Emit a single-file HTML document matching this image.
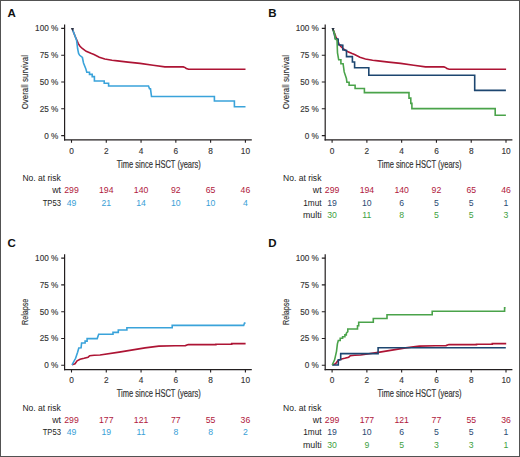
<!DOCTYPE html><html><head><meta charset="utf-8"><style>html,body{margin:0;padding:0;background:#fff;}svg{display:block;}text{font-family:"Liberation Sans", sans-serif;}</style></head><body>
<svg width="520" height="457" viewBox="0 0 520 457">
<rect x="0" y="0" width="520" height="457" fill="#fff"/>
<text x="7.6" y="17.1" font-size="11.5" font-weight="bold" fill="#111">A</text>
<path d="M64.6,24.5V140.6" fill="none" stroke="#231f20" stroke-width="1.2"/>
<path d="M64,139.9H251.8" fill="none" stroke="#231f20" stroke-width="1.4"/>
<path d="M61.2,135.6H64.6M61.2,108.8H64.6M61.2,82H64.6M61.2,55.2H64.6M61.2,28.4H64.6M71.5,140V142.8M106.28,140V142.8M141.06,140V142.8M175.84,140V142.8M210.62,140V142.8M245.4,140V142.8" stroke="#231f20" stroke-width="1.1" fill="none"/>
<text x="58.3" y="138.5" text-anchor="end" font-size="8.2" fill="#333" stroke="#333" stroke-width="0.12">0 %</text>
<text x="58.3" y="111.7" text-anchor="end" font-size="8.2" fill="#333" stroke="#333" stroke-width="0.12">25 %</text>
<text x="58.3" y="84.9" text-anchor="end" font-size="8.2" fill="#333" stroke="#333" stroke-width="0.12">50 %</text>
<text x="58.3" y="58.1" text-anchor="end" font-size="8.2" fill="#333" stroke="#333" stroke-width="0.12">75 %</text>
<text x="58.3" y="31.3" text-anchor="end" font-size="8.2" fill="#333" stroke="#333" stroke-width="0.12">100 %</text>
<text x="71.5" y="153.5" text-anchor="middle" font-size="8.3" fill="#333" stroke="#333" stroke-width="0.12">0</text>
<text x="106.28" y="153.5" text-anchor="middle" font-size="8.3" fill="#333" stroke="#333" stroke-width="0.12">2</text>
<text x="141.06" y="153.5" text-anchor="middle" font-size="8.3" fill="#333" stroke="#333" stroke-width="0.12">4</text>
<text x="175.84" y="153.5" text-anchor="middle" font-size="8.3" fill="#333" stroke="#333" stroke-width="0.12">6</text>
<text x="210.62" y="153.5" text-anchor="middle" font-size="8.3" fill="#333" stroke="#333" stroke-width="0.12">8</text>
<text x="245.4" y="153.5" text-anchor="middle" font-size="8.3" fill="#333" stroke="#333" stroke-width="0.12">10</text>
<text x="116.8" y="167.6" font-size="10.4" textLength="84" lengthAdjust="spacingAndGlyphs" fill="#333" stroke="#333" stroke-width="0.18">Time since HSCT (years)</text>
<text transform="translate(28.2,82.2) rotate(-90)" x="0" y="0" text-anchor="middle" font-size="9.9" textLength="54.3" lengthAdjust="spacingAndGlyphs" fill="#333" stroke="#333" stroke-width="0.15">Overall survival</text>
<polyline points="72.3,29 75.2,36.5 77,40.5 78.3,43.6 80,46.2 82.3,48.5 86.2,51.3 91.5,53.6 94,54.5 99.3,57.3 104.8,59 112,60.2 117.5,60.9 128,62.1 140,63.4 153.1,65.2 164.9,66.9 183.3,66.9 185.2,67.6 186.3,68.6 188.6,69.3 245.5,69.3" fill="none" stroke="#ad1434" stroke-width="1.6" stroke-linejoin="miter"/>
<polyline points="72.3,29 75.2,36.5 76.6,40.5 77.6,48.5 78.6,53.5 79.7,55.3 82.4,57.5 83.5,63 85.7,68.4 86.8,72.2 89.5,72.2 89.5,74.4 92.2,74.4 92.2,76.6 94.4,76.6 94.4,81 104.2,81 104.2,83.2 108.6,83.2 108.6,86 148.5,86 149.5,88.8 150.5,88.8 151.5,96.5 214.4,96.5 214.4,101 234.4,101 234.4,106.7 245.5,106.7" fill="none" stroke="#3aa3da" stroke-width="1.6" stroke-linejoin="miter"/>
<path d="M70.8,27.9H74L72.6,31.1Z" fill="#2a3142"/>
<text x="22.4" y="180.8" font-size="8.4" textLength="38.4" lengthAdjust="spacingAndGlyphs" fill="#222">No. at risk</text>
<text x="61" y="193.3" text-anchor="end" font-size="8.7" textLength="8.8" lengthAdjust="spacingAndGlyphs" fill="#222">wt</text>
<text x="71.5" y="193.3" text-anchor="middle" font-size="8.7" fill="#b0183c">299</text>
<text x="106.28" y="193.3" text-anchor="middle" font-size="8.7" fill="#b0183c">194</text>
<text x="141.06" y="193.3" text-anchor="middle" font-size="8.7" fill="#b0183c">140</text>
<text x="175.84" y="193.3" text-anchor="middle" font-size="8.7" fill="#b0183c">92</text>
<text x="210.62" y="193.3" text-anchor="middle" font-size="8.7" fill="#b0183c">65</text>
<text x="245.4" y="193.3" text-anchor="middle" font-size="8.7" fill="#b0183c">46</text>
<text x="61" y="205.75" text-anchor="end" font-size="8.7" textLength="18.3" lengthAdjust="spacingAndGlyphs" fill="#222">TP53</text>
<text x="71.5" y="205.75" text-anchor="middle" font-size="8.7" fill="#3aa0d6">49</text>
<text x="106.28" y="205.75" text-anchor="middle" font-size="8.7" fill="#3aa0d6">21</text>
<text x="141.06" y="205.75" text-anchor="middle" font-size="8.7" fill="#3aa0d6">14</text>
<text x="175.84" y="205.75" text-anchor="middle" font-size="8.7" fill="#3aa0d6">10</text>
<text x="210.62" y="205.75" text-anchor="middle" font-size="8.7" fill="#3aa0d6">10</text>
<text x="245.4" y="205.75" text-anchor="middle" font-size="8.7" fill="#3aa0d6">4</text>
<text x="268.2" y="17.1" font-size="11.5" font-weight="bold" fill="#111">B</text>
<path d="M325.2,24.5V140.6" fill="none" stroke="#231f20" stroke-width="1.2"/>
<path d="M324.6,139.9H512.4" fill="none" stroke="#231f20" stroke-width="1.4"/>
<path d="M321.8,135.6H325.2M321.8,108.8H325.2M321.8,82H325.2M321.8,55.2H325.2M321.8,28.4H325.2M332.1,140V142.8M366.88,140V142.8M401.66,140V142.8M436.44,140V142.8M471.22,140V142.8M506,140V142.8" stroke="#231f20" stroke-width="1.1" fill="none"/>
<text x="318.9" y="138.5" text-anchor="end" font-size="8.2" fill="#333" stroke="#333" stroke-width="0.12">0 %</text>
<text x="318.9" y="111.7" text-anchor="end" font-size="8.2" fill="#333" stroke="#333" stroke-width="0.12">25 %</text>
<text x="318.9" y="84.9" text-anchor="end" font-size="8.2" fill="#333" stroke="#333" stroke-width="0.12">50 %</text>
<text x="318.9" y="58.1" text-anchor="end" font-size="8.2" fill="#333" stroke="#333" stroke-width="0.12">75 %</text>
<text x="318.9" y="31.3" text-anchor="end" font-size="8.2" fill="#333" stroke="#333" stroke-width="0.12">100 %</text>
<text x="332.1" y="153.5" text-anchor="middle" font-size="8.3" fill="#333" stroke="#333" stroke-width="0.12">0</text>
<text x="366.88" y="153.5" text-anchor="middle" font-size="8.3" fill="#333" stroke="#333" stroke-width="0.12">2</text>
<text x="401.66" y="153.5" text-anchor="middle" font-size="8.3" fill="#333" stroke="#333" stroke-width="0.12">4</text>
<text x="436.44" y="153.5" text-anchor="middle" font-size="8.3" fill="#333" stroke="#333" stroke-width="0.12">6</text>
<text x="471.22" y="153.5" text-anchor="middle" font-size="8.3" fill="#333" stroke="#333" stroke-width="0.12">8</text>
<text x="506" y="153.5" text-anchor="middle" font-size="8.3" fill="#333" stroke="#333" stroke-width="0.12">10</text>
<text x="377.4" y="167.6" font-size="10.4" textLength="84" lengthAdjust="spacingAndGlyphs" fill="#333" stroke="#333" stroke-width="0.18">Time since HSCT (years)</text>
<text transform="translate(288.8,82.2) rotate(-90)" x="0" y="0" text-anchor="middle" font-size="9.9" textLength="54.3" lengthAdjust="spacingAndGlyphs" fill="#333" stroke="#333" stroke-width="0.15">Overall survival</text>
<polyline points="332.9,29 335.8,36.5 337.6,40.5 338.9,43.6 340.6,46.2 342.9,48.5 346.8,51.3 352.1,53.6 354.6,54.5 359.9,57.3 365.4,59 372.6,60.2 378.1,60.9 388.6,62.1 400.6,63.4 413.7,65.2 425.5,66.9 443.9,66.9 445.8,67.6 446.9,68.6 449.2,69.3 506.1,69.3" fill="none" stroke="#ad1434" stroke-width="1.6" stroke-linejoin="miter"/>
<polyline points="332.9,28.9 335.3,38.5 338.2,39.1 338.2,44.8 342.8,45.2 342.8,49.8 346.5,50.5 346.5,56.6 352.4,56.6 352.4,62 354.6,62 354.6,67.7 368.8,67.7 368.8,75.3 474.7,75.3 474.7,90.4 505.9,90.4" fill="none" stroke="#1d4670" stroke-width="1.6" stroke-linejoin="miter"/>
<polyline points="332.9,28.9 334.8,34.5 335.2,39 337,40 337.5,53 338.7,59.8 340.9,59.8 340.9,63.7 343.1,63.7 344.2,71.9 346.4,78.4 346.9,82.2 349.1,82.2 349.1,85.2 355.1,85.2 355.1,88.5 364.4,88.5 364.4,92.6 409,92.6 409,98.1 410.8,98.1 410.8,103.4 411.9,103.4 411.9,108.6 495.2,108.6 495.2,115.3 505.9,115.3" fill="none" stroke="#4aa34a" stroke-width="1.6" stroke-linejoin="miter"/>
<path d="M331.4,27.9H334.6L333.2,31.1Z" fill="#2a3142"/>
<text x="283" y="180.8" font-size="8.4" textLength="38.4" lengthAdjust="spacingAndGlyphs" fill="#222">No. at risk</text>
<text x="321.6" y="193.3" text-anchor="end" font-size="8.7" textLength="8.8" lengthAdjust="spacingAndGlyphs" fill="#222">wt</text>
<text x="332.1" y="193.3" text-anchor="middle" font-size="8.7" fill="#b0183c">299</text>
<text x="366.88" y="193.3" text-anchor="middle" font-size="8.7" fill="#b0183c">194</text>
<text x="401.66" y="193.3" text-anchor="middle" font-size="8.7" fill="#b0183c">140</text>
<text x="436.44" y="193.3" text-anchor="middle" font-size="8.7" fill="#b0183c">92</text>
<text x="471.22" y="193.3" text-anchor="middle" font-size="8.7" fill="#b0183c">65</text>
<text x="506" y="193.3" text-anchor="middle" font-size="8.7" fill="#b0183c">46</text>
<text x="321.6" y="205.75" text-anchor="end" font-size="8.7" textLength="18.4" lengthAdjust="spacingAndGlyphs" fill="#222">1mut</text>
<text x="332.1" y="205.75" text-anchor="middle" font-size="8.7" fill="#2b4a72">19</text>
<text x="366.88" y="205.75" text-anchor="middle" font-size="8.7" fill="#2b4a72">10</text>
<text x="401.66" y="205.75" text-anchor="middle" font-size="8.7" fill="#2b4a72">6</text>
<text x="436.44" y="205.75" text-anchor="middle" font-size="8.7" fill="#2b4a72">5</text>
<text x="471.22" y="205.75" text-anchor="middle" font-size="8.7" fill="#2b4a72">5</text>
<text x="506" y="205.75" text-anchor="middle" font-size="8.7" fill="#2b4a72">1</text>
<text x="321.6" y="218.2" text-anchor="end" font-size="8.7" textLength="18.6" lengthAdjust="spacingAndGlyphs" fill="#222">multi</text>
<text x="332.1" y="218.2" text-anchor="middle" font-size="8.7" fill="#3f9f3f">30</text>
<text x="366.88" y="218.2" text-anchor="middle" font-size="8.7" fill="#3f9f3f">11</text>
<text x="401.66" y="218.2" text-anchor="middle" font-size="8.7" fill="#3f9f3f">8</text>
<text x="436.44" y="218.2" text-anchor="middle" font-size="8.7" fill="#3f9f3f">5</text>
<text x="471.22" y="218.2" text-anchor="middle" font-size="8.7" fill="#3f9f3f">5</text>
<text x="506" y="218.2" text-anchor="middle" font-size="8.7" fill="#3f9f3f">3</text>
<text x="7.6" y="246.8" font-size="11.5" font-weight="bold" fill="#111">C</text>
<path d="M64.6,254.2V370.3" fill="none" stroke="#231f20" stroke-width="1.2"/>
<path d="M64,369.6H251.8" fill="none" stroke="#231f20" stroke-width="1.4"/>
<path d="M61.2,365.3H64.6M61.2,338.5H64.6M61.2,311.7H64.6M61.2,284.9H64.6M61.2,258.1H64.6M71.5,369.7V372.5M106.28,369.7V372.5M141.06,369.7V372.5M175.84,369.7V372.5M210.62,369.7V372.5M245.4,369.7V372.5" stroke="#231f20" stroke-width="1.1" fill="none"/>
<text x="58.3" y="368.2" text-anchor="end" font-size="8.2" fill="#333" stroke="#333" stroke-width="0.12">0 %</text>
<text x="58.3" y="341.4" text-anchor="end" font-size="8.2" fill="#333" stroke="#333" stroke-width="0.12">25 %</text>
<text x="58.3" y="314.6" text-anchor="end" font-size="8.2" fill="#333" stroke="#333" stroke-width="0.12">50 %</text>
<text x="58.3" y="287.8" text-anchor="end" font-size="8.2" fill="#333" stroke="#333" stroke-width="0.12">75 %</text>
<text x="58.3" y="261" text-anchor="end" font-size="8.2" fill="#333" stroke="#333" stroke-width="0.12">100 %</text>
<text x="71.5" y="383.2" text-anchor="middle" font-size="8.3" fill="#333" stroke="#333" stroke-width="0.12">0</text>
<text x="106.28" y="383.2" text-anchor="middle" font-size="8.3" fill="#333" stroke="#333" stroke-width="0.12">2</text>
<text x="141.06" y="383.2" text-anchor="middle" font-size="8.3" fill="#333" stroke="#333" stroke-width="0.12">4</text>
<text x="175.84" y="383.2" text-anchor="middle" font-size="8.3" fill="#333" stroke="#333" stroke-width="0.12">6</text>
<text x="210.62" y="383.2" text-anchor="middle" font-size="8.3" fill="#333" stroke="#333" stroke-width="0.12">8</text>
<text x="245.4" y="383.2" text-anchor="middle" font-size="8.3" fill="#333" stroke="#333" stroke-width="0.12">10</text>
<text x="116.8" y="397.3" font-size="10.4" textLength="84" lengthAdjust="spacingAndGlyphs" fill="#333" stroke="#333" stroke-width="0.18">Time since HSCT (years)</text>
<text transform="translate(28.2,311.9) rotate(-90)" x="0" y="0" text-anchor="middle" font-size="9.9" textLength="26.2" lengthAdjust="spacingAndGlyphs" fill="#333" stroke="#333" stroke-width="0.15">Relapse</text>
<polyline points="72,364.8 75,363.8 77.1,360.8 80.1,359.3 84.1,358.3 88.1,357.2 89.7,355.7 94.2,355.2 100,355 119.2,352.1 145,347.9 158.8,346.1 175,345.8 185.4,345.6 188.3,344.6 215.9,344.6 215.9,344.2 231.7,344.2 231.7,343.6 245.6,343.6" fill="none" stroke="#ad1434" stroke-width="1.6" stroke-linejoin="miter"/>
<polyline points="72,364.8 75.6,358.3 77.6,352.2 78.8,348 81.1,347.7 81.6,343 85.1,343 85.1,341.1 87.1,341.1 87.1,338.6 97.2,338.6 98.7,334.3 113,334.3 113,332.4 118.3,332.4 118.3,330 126.9,330 126.9,327.8 172.2,327.8 172.2,325.4 243.7,325.4 244.5,323.1 245.5,323.1" fill="none" stroke="#3aa3da" stroke-width="1.6" stroke-linejoin="miter"/>
<text x="22.4" y="410.5" font-size="8.4" textLength="38.4" lengthAdjust="spacingAndGlyphs" fill="#222">No. at risk</text>
<text x="61" y="423" text-anchor="end" font-size="8.7" textLength="8.8" lengthAdjust="spacingAndGlyphs" fill="#222">wt</text>
<text x="71.5" y="423" text-anchor="middle" font-size="8.7" fill="#b0183c">299</text>
<text x="106.28" y="423" text-anchor="middle" font-size="8.7" fill="#b0183c">177</text>
<text x="141.06" y="423" text-anchor="middle" font-size="8.7" fill="#b0183c">121</text>
<text x="175.84" y="423" text-anchor="middle" font-size="8.7" fill="#b0183c">77</text>
<text x="210.62" y="423" text-anchor="middle" font-size="8.7" fill="#b0183c">55</text>
<text x="245.4" y="423" text-anchor="middle" font-size="8.7" fill="#b0183c">36</text>
<text x="61" y="435.45" text-anchor="end" font-size="8.7" textLength="18.3" lengthAdjust="spacingAndGlyphs" fill="#222">TP53</text>
<text x="71.5" y="435.45" text-anchor="middle" font-size="8.7" fill="#3aa0d6">49</text>
<text x="106.28" y="435.45" text-anchor="middle" font-size="8.7" fill="#3aa0d6">19</text>
<text x="141.06" y="435.45" text-anchor="middle" font-size="8.7" fill="#3aa0d6">11</text>
<text x="175.84" y="435.45" text-anchor="middle" font-size="8.7" fill="#3aa0d6">8</text>
<text x="210.62" y="435.45" text-anchor="middle" font-size="8.7" fill="#3aa0d6">8</text>
<text x="245.4" y="435.45" text-anchor="middle" font-size="8.7" fill="#3aa0d6">2</text>
<text x="268.2" y="246.8" font-size="11.5" font-weight="bold" fill="#111">D</text>
<path d="M325.2,254.2V370.3" fill="none" stroke="#231f20" stroke-width="1.2"/>
<path d="M324.6,369.6H512.4" fill="none" stroke="#231f20" stroke-width="1.4"/>
<path d="M321.8,365.3H325.2M321.8,338.5H325.2M321.8,311.7H325.2M321.8,284.9H325.2M321.8,258.1H325.2M332.1,369.7V372.5M366.88,369.7V372.5M401.66,369.7V372.5M436.44,369.7V372.5M471.22,369.7V372.5M506,369.7V372.5" stroke="#231f20" stroke-width="1.1" fill="none"/>
<text x="318.9" y="368.2" text-anchor="end" font-size="8.2" fill="#333" stroke="#333" stroke-width="0.12">0 %</text>
<text x="318.9" y="341.4" text-anchor="end" font-size="8.2" fill="#333" stroke="#333" stroke-width="0.12">25 %</text>
<text x="318.9" y="314.6" text-anchor="end" font-size="8.2" fill="#333" stroke="#333" stroke-width="0.12">50 %</text>
<text x="318.9" y="287.8" text-anchor="end" font-size="8.2" fill="#333" stroke="#333" stroke-width="0.12">75 %</text>
<text x="318.9" y="261" text-anchor="end" font-size="8.2" fill="#333" stroke="#333" stroke-width="0.12">100 %</text>
<text x="332.1" y="383.2" text-anchor="middle" font-size="8.3" fill="#333" stroke="#333" stroke-width="0.12">0</text>
<text x="366.88" y="383.2" text-anchor="middle" font-size="8.3" fill="#333" stroke="#333" stroke-width="0.12">2</text>
<text x="401.66" y="383.2" text-anchor="middle" font-size="8.3" fill="#333" stroke="#333" stroke-width="0.12">4</text>
<text x="436.44" y="383.2" text-anchor="middle" font-size="8.3" fill="#333" stroke="#333" stroke-width="0.12">6</text>
<text x="471.22" y="383.2" text-anchor="middle" font-size="8.3" fill="#333" stroke="#333" stroke-width="0.12">8</text>
<text x="506" y="383.2" text-anchor="middle" font-size="8.3" fill="#333" stroke="#333" stroke-width="0.12">10</text>
<text x="377.4" y="397.3" font-size="10.4" textLength="84" lengthAdjust="spacingAndGlyphs" fill="#333" stroke="#333" stroke-width="0.18">Time since HSCT (years)</text>
<text transform="translate(288.8,311.9) rotate(-90)" x="0" y="0" text-anchor="middle" font-size="9.9" textLength="26.2" lengthAdjust="spacingAndGlyphs" fill="#333" stroke="#333" stroke-width="0.15">Relapse</text>
<polyline points="332.6,364.8 335.6,363.8 337.7,360.8 340.7,359.3 344.7,358.3 348.7,357.2 350.3,355.7 354.8,355.2 360.6,355 379.8,352.1 405.6,347.9 419.4,346.1 435.6,345.8 446,345.6 448.9,344.6 476.5,344.6 476.5,344.2 492.3,344.2 492.3,343.6 506.2,343.6" fill="none" stroke="#ad1434" stroke-width="1.6" stroke-linejoin="miter"/>
<polyline points="332.2,365 338.3,365 338.3,359.8 340.7,359.8 340.7,353.6 378.1,353.6 378.1,347.7 505.8,347.7" fill="none" stroke="#1d4670" stroke-width="1.6" stroke-linejoin="miter"/>
<polyline points="332.2,365 334.6,359.8 336.5,351.3 337.4,343.8 338.3,340.5 340.2,340.5 340.2,338.2 342.6,338.2 342.6,336.8 344.9,336.8 344.9,334.9 346.3,334.9 346.3,333.3 347.8,331.6 347.8,329 357.5,329 357.5,325.7 358.7,325.7 358.7,322.3 373.3,322.3 373.3,318.5 387,318.5 387,314.8 432.2,314.8 432.2,311.3 504.6,311.3 504.6,307.8 505.6,307.8" fill="none" stroke="#4aa34a" stroke-width="1.6" stroke-linejoin="miter"/>
<text x="283" y="410.5" font-size="8.4" textLength="38.4" lengthAdjust="spacingAndGlyphs" fill="#222">No. at risk</text>
<text x="321.6" y="423" text-anchor="end" font-size="8.7" textLength="8.8" lengthAdjust="spacingAndGlyphs" fill="#222">wt</text>
<text x="332.1" y="423" text-anchor="middle" font-size="8.7" fill="#b0183c">299</text>
<text x="366.88" y="423" text-anchor="middle" font-size="8.7" fill="#b0183c">177</text>
<text x="401.66" y="423" text-anchor="middle" font-size="8.7" fill="#b0183c">121</text>
<text x="436.44" y="423" text-anchor="middle" font-size="8.7" fill="#b0183c">77</text>
<text x="471.22" y="423" text-anchor="middle" font-size="8.7" fill="#b0183c">55</text>
<text x="506" y="423" text-anchor="middle" font-size="8.7" fill="#b0183c">36</text>
<text x="321.6" y="435.45" text-anchor="end" font-size="8.7" textLength="18.4" lengthAdjust="spacingAndGlyphs" fill="#222">1mut</text>
<text x="332.1" y="435.45" text-anchor="middle" font-size="8.7" fill="#2b4a72">19</text>
<text x="366.88" y="435.45" text-anchor="middle" font-size="8.7" fill="#2b4a72">10</text>
<text x="401.66" y="435.45" text-anchor="middle" font-size="8.7" fill="#2b4a72">6</text>
<text x="436.44" y="435.45" text-anchor="middle" font-size="8.7" fill="#2b4a72">5</text>
<text x="471.22" y="435.45" text-anchor="middle" font-size="8.7" fill="#2b4a72">5</text>
<text x="506" y="435.45" text-anchor="middle" font-size="8.7" fill="#2b4a72">1</text>
<text x="321.6" y="447.9" text-anchor="end" font-size="8.7" textLength="18.6" lengthAdjust="spacingAndGlyphs" fill="#222">multi</text>
<text x="332.1" y="447.9" text-anchor="middle" font-size="8.7" fill="#3f9f3f">30</text>
<text x="366.88" y="447.9" text-anchor="middle" font-size="8.7" fill="#3f9f3f">9</text>
<text x="401.66" y="447.9" text-anchor="middle" font-size="8.7" fill="#3f9f3f">5</text>
<text x="436.44" y="447.9" text-anchor="middle" font-size="8.7" fill="#3f9f3f">3</text>
<text x="471.22" y="447.9" text-anchor="middle" font-size="8.7" fill="#3f9f3f">3</text>
<text x="506" y="447.9" text-anchor="middle" font-size="8.7" fill="#3f9f3f">1</text>
<rect x="0.5" y="0.5" width="519" height="456" fill="none" stroke="#525252" stroke-width="1"/>
</svg></body></html>
